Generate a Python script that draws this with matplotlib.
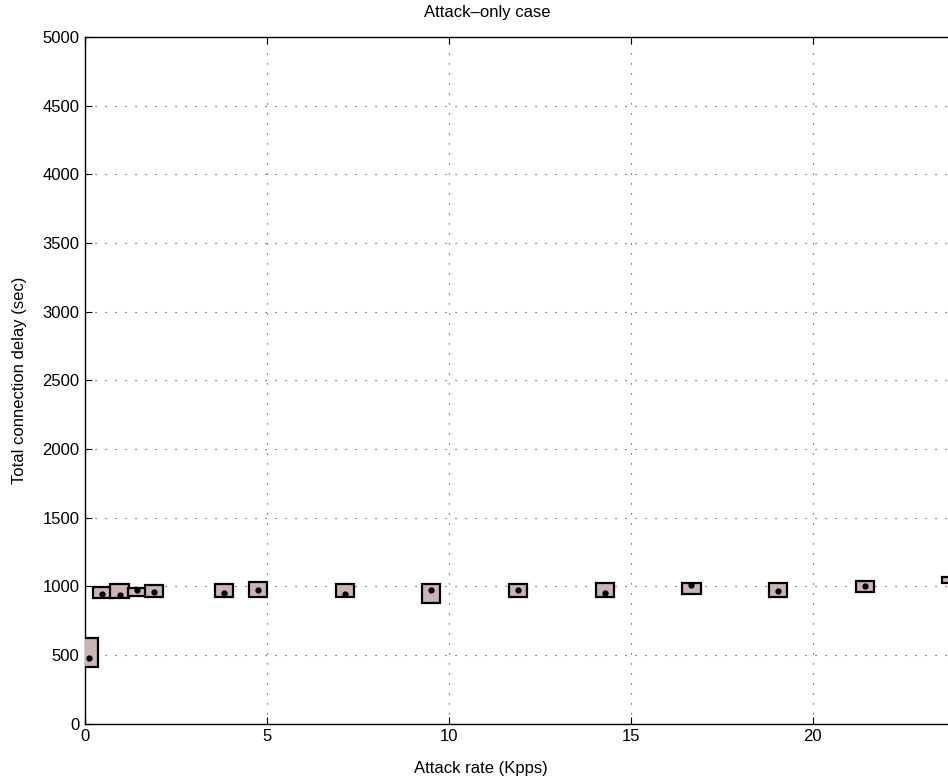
import matplotlib
matplotlib.use("Agg")
import matplotlib.pyplot as plt
import numpy as np

plt.rcParams['font.family'] = ['Liberation Sans', 'DejaVu Sans']

# Data
attack_rate = [0.1, 0.48, 0.95, 1.43, 1.9, 3.81, 4.76, 7.14, 9.52, 11.9, 14.29, 16.67, 19.05, 21.43, 23.81]
delay_low   = [414, 916, 916, 929, 921, 921, 924, 924, 875, 924, 924, 941, 924, 956, 1025]
delay_high  = [625, 992, 1016, 985, 1011, 1016, 1028, 1016, 1016, 1014, 1021, 1021, 1021, 1040, 1069]
delay_mid   = [475, 945, 936, 972, 956, 953, 970, 943, 972, 972, 950, 1011, 965, 1001, 1050]
xticks = [0, 5, 10, 15, 20]
yticks = list(range(0, 5001, 500))

W, H = 948, 780
fig = plt.figure(figsize=(W / 100, H / 100), dpi=100)
ax = fig.add_axes([85 / W, (H - 723.5) / H, 1 - 85 / W, (723.5 - 37) / H])

heights = np.array(delay_high) - np.array(delay_low)
ax.bar(attack_rate, heights, bottom=delay_low, width=0.5,
       color='#ccb4b4', edgecolor='black', linewidth=1.6, zorder=3)
ax.plot(attack_rate, delay_mid, linestyle='none', marker='o',
        markersize=3.5, color='black', zorder=4)

ax.set_xlim(0, (W - 85) / 36.38)
ax.set_ylim(0, 5000)
ax.set_xticks(xticks)
ax.set_yticks(yticks)
ax.tick_params(direction='in', length=5, width=0.8, top=True, right=False,
               labelsize=12, pad=4)
ax.grid(True, color='#333333', linestyle=(0, (1, 8)), linewidth=0.8)
ax.set_axisbelow(True)
for s in ['left', 'bottom', 'top']:
    ax.spines[s].set_linewidth(1.0)
ax.spines['right'].set_visible(False)

fig.text(487 / W, 1 - 12 / H, 'Attack\u2013only case', ha='center', va='center', fontsize=12)
fig.text(481 / W, 1 - 768 / H, 'Attack rate (Kpps)', ha='center', va='center', fontsize=12)
fig.text(20 / W, 1 - 380 / H, 'Total connection delay (sec)', ha='center', va='center',
         rotation=90, fontsize=12)

fig.savefig('out.png', dpi=100)
